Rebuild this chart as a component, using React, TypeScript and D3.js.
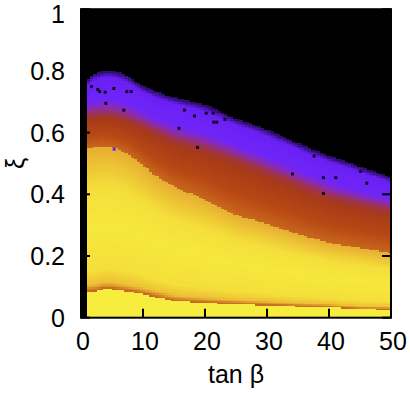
import React, { useMemo } from 'react';
import * as d3 from 'd3';

const tanBetaKnots = [1, 2, 3.5, 5, 7, 10, 12.5, 15, 20, 25, 30, 35, 40, 45, 50];
// upper edge of the coloured region (black above)
const topEdge = [0.77, 0.79, 0.8, 0.8, 0.79, 0.75, 0.73, 0.715, 0.69, 0.645, 0.61, 0.565, 0.525, 0.49, 0.455];
// middle of the purple -> red change
const purpleRedEdge = [0.655, 0.657, 0.66, 0.657, 0.648, 0.625, 0.6, 0.578, 0.55, 0.515, 0.475, 0.435, 0.395, 0.37, 0.35];
// sharp orange / yellow step
const stepEdge = [0.55, 0.553, 0.557, 0.553, 0.54, 0.495, 0.455, 0.425, 0.385, 0.335, 0.305, 0.272, 0.244, 0.228, 0.21];
// thin dark line near the bottom
const lowerEdge = [0.085, 0.085, 0.093, 0.093, 0.087, 0.077, 0.066, 0.056, 0.049, 0.045, 0.041, 0.037, 0.035, 0.028, 0.027];

// colour value profiles inside each band (0 = upper edge, 1 = lower edge)
const purplePos = [0, 0.15, 0.65, 1];
const purpleVal = [0.06, 0.21, 0.25, 0.45];
const redPos = [0, 0.15, 0.6, 1];
const redVal = [0.45, 0.5, 0.57, 0.66];
const yellowPos = [0, 0.3, 0.55, 0.85, 0.95, 1];
const yellowVal = [0.84, 0.95, 0.975, 0.95, 0.88, 0.68];
const bottomVal = 0.99;

// dark single points scattered in the purple band [tan beta, xi]
const darkDots = [
  [1.7, 0.749], [2.7, 0.74], [3.0, 0.733], [3.9, 0.731], [5.3, 0.743], [4.0, 0.695],
  [6.9, 0.673], [7.4, 0.733], [8.1, 0.733], [16.7, 0.673], [18.3, 0.654], [20.2, 0.663],
  [21.3, 0.663], [21.4, 0.634], [21.9, 0.634], [23.2, 0.643], [15.8, 0.614], [18.8, 0.552],
  [37.6, 0.524], [34.1, 0.466], [39.1, 0.454], [41.1, 0.454], [39.1, 0.403], [45.1, 0.474],
  [46.1, 0.436],
];
const purpleDots = [[5.35, 0.546]];

const xTicks = [0, 10, 20, 30, 40, 50];
const yTicks = [0, 0.2, 0.4, 0.6, 0.8, 1];

// colour ramp matched to the picture (black - violet - brick red - orange - yellow)
const rampStops = [0, 0.06, 0.21, 0.25, 0.35, 0.45, 0.5, 0.58, 0.66, 0.72, 0.8, 0.88, 0.94, 0.97, 1];
const rampColors = [
  '#000000', '#2a0a60', '#6a20f4', '#7024f8', '#8a2cb0', '#a03440', '#a83a18', '#b84a14',
  '#c8661e', '#c87020', '#e09a30', '#ecc034', '#f4dc3a', '#f6e63c', '#f8f040',
];

const W = 410;
const H = 393;
const left = 81;
const right = 391;
const top = 9.2;
const bottom = 317.7;
const font = '"Liberation Sans", Arial, Helvetica, sans-serif';

const App = () => {
  const x = d3.scaleLinear().domain([0, 50]).range([left, right]);
  const y = d3.scaleLinear().domain([0, 1]).range([bottom, top]);
  const color = d3
    .scaleLinear<string>()
    .domain(rampStops)
    .range(rampColors)
    .interpolate(d3.interpolateRgb)
    .clamp(true);

  const cells = useMemo(() => {
    const T = d3.scaleLinear().domain(tanBetaKnots).range(topEdge).clamp(true);
    const M = d3.scaleLinear().domain(tanBetaKnots).range(purpleRedEdge).clamp(true);
    const S = d3.scaleLinear().domain(tanBetaKnots).range(stepEdge).clamp(true);
    const L = d3.scaleLinear().domain(tanBetaKnots).range(lowerEdge).clamp(true);
    const pP = d3.scaleLinear().domain(purplePos).range(purpleVal).clamp(true);
    const pR = d3.scaleLinear().domain(redPos).range(redVal).clamp(true);
    const pY = d3.scaleLinear().domain(yellowPos).range(yellowVal).clamp(true);

    const out: { x: number; y: number; w: number; h: number; c: string }[] = [];
    const dx = 0.5;
    const dy = 0.005;
    for (let tb = 1; tb < 50 - 1e-9; tb += dx) {
      const cx = tb + dx / 2;
      const t = T(cx), m = M(cx), s = S(cx), l = L(cx);
      for (let xi = 0; xi < 0.82; xi += dy) {
        const cy = xi + dy / 2;
        if (cy > t) continue;
        let v: number;
        if (cy >= m) v = pP((t - cy) / (t - m));
        else if (cy >= s) v = pR((m - cy) / (m - s));
        else if (cy >= l) v = pY((s - cy) / (s - l));
        else v = bottomVal;
        out.push({
          x: x(tb),
          y: y(xi + dy),
          w: x(tb + dx) - x(tb),
          h: y(xi) - y(xi + dy),
          c: color(v),
        });
      }
    }
    return out;
  }, []);

  return (
    <svg
      width={W}
      height={H}
      style={{ position: 'absolute', left: 0, top: 0, background: '#fff' }}
      fontFamily={font}
    >
      <rect x={left} y={top} width={right - left} height={bottom - top} fill="#000" />
      <g shapeRendering="crispEdges">
        {cells.map((d, i) => (
          <rect key={i} x={d.x} y={d.y} width={d.w + 0.4} height={d.h + 0.4} fill={d.c} />
        ))}
      </g>
      {darkDots.map((d, i) => (
        <rect key={'d' + i} x={x(d[0]) - 1.5} y={y(d[1]) - 1.5} width={3} height={3} fill="#160626" />
      ))}
      {purpleDots.map((d, i) => (
        <rect key={'p' + i} x={x(d[0]) - 1.5} y={y(d[1]) - 1.5} width={3} height={3} fill={color(0.22)} />
      ))}
      <rect x={left} y={top} width={right - left} height={bottom - top} fill="none" stroke="#000" strokeWidth={2} />
      {xTicks.map((t) => (
        <g key={'x' + t}>
          <line x1={x(t)} x2={x(t)} y1={bottom} y2={bottom - 9} stroke="#000" strokeWidth={2} />
          <line x1={x(t)} x2={x(t)} y1={top} y2={top + 9} stroke="#000" strokeWidth={2} />
          <text x={x(t) + 2} y={bottom + 32} fontSize={25} textAnchor="middle" fill="#000">
            {t}
          </text>
        </g>
      ))}
      {yTicks.map((t) => (
        <g key={'y' + t}>
          <line x1={left} x2={left + 9} y1={y(t)} y2={y(t)} stroke="#000" strokeWidth={2} />
          <line x1={right} x2={right - 9} y1={y(t)} y2={y(t)} stroke="#000" strokeWidth={2} />
          <text x={65} y={Math.max(y(t) + 9, 23)} fontSize={25} textAnchor="end" fill="#000">
            {String(t)}
          </text>
        </g>
      ))}
      <text x={(left + right) / 2} y={383} fontSize={25} textAnchor="middle" fill="#000">
        tan β
      </text>
      <g transform={`translate(16, ${(top + bottom) / 2}) rotate(-90)`}>
        <text x={0} y={8} fontSize={25} textAnchor="middle" fill="#000">
          ξ
        </text>
      </g>
    </svg>
  );
};

export default App;
